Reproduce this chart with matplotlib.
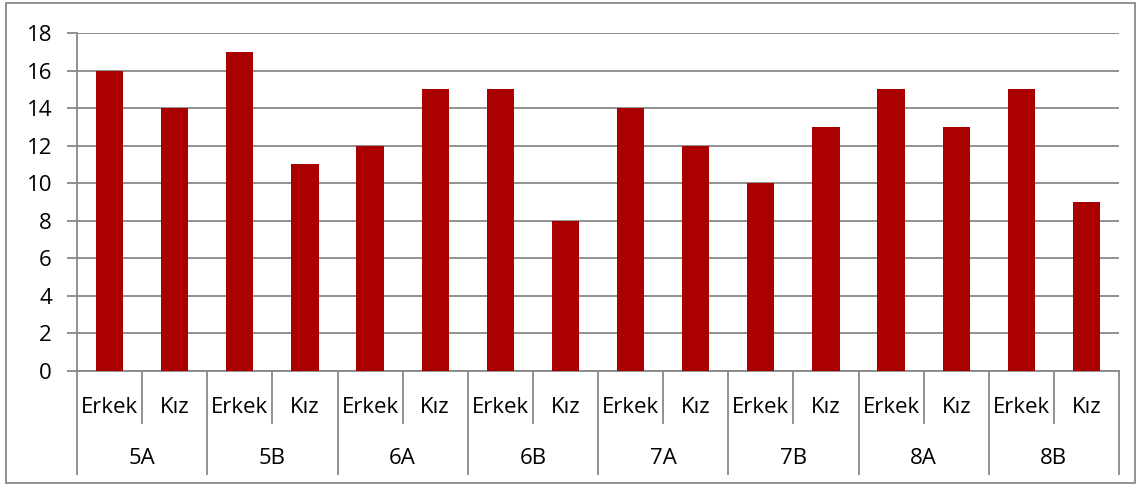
import matplotlib
matplotlib.use("Agg")
import matplotlib.pyplot as plt
from matplotlib.patches import Rectangle
import matplotlib.transforms as mtransforms

groups = ["5A", "5B", "6A", "6B", "7A", "7B", "8A", "8B"]
subcats = ["Erkek", "Kız"]
erkek = [16, 17, 12, 15, 14, 10, 15, 15]
kiz = [14, 11, 15, 8, 12, 13, 13, 9]
yticks = [0, 2, 4, 6, 8, 10, 12, 14, 16, 18]

values = []
labels = []
for e, k in zip(erkek, kiz):
    values += [e, k]
    labels += subcats

plt.rcParams['font.family'] = ['Open Sans', 'DejaVu Sans']
FS = 16
W, H = 1138, 486
fig = plt.figure(figsize=(W / 100, H / 100), dpi=100)
ax = fig.add_axes([77 / W, 1 - 371 / H, (1119 - 77) / W, (371 - 33) / H])

grid_c = "#888888"
x = list(range(len(values)))
ax.bar(x, values, width=0.42, color="#AA0000", zorder=3)
ax.set_xlim(-0.5, len(values) - 0.5)
ax.set_ylim(0, 18)
ax.set_yticks(yticks)
ax.set_yticklabels([str(t) for t in yticks], fontsize=FS)
ax.yaxis.grid(True, color=grid_c, linewidth=1.3, zorder=0)
ax.tick_params(axis='y', length=7, width=1.3, color=grid_c, pad=11)
ax.set_xticks([])
for s in ["top", "right"]:
    ax.spines[s].set_visible(False)
for s in ["left", "bottom"]:
    ax.spines[s].set_color(grid_c)
    ax.spines[s].set_linewidth(1.3)

trans = mtransforms.blended_transform_factory(ax.transData, ax.transAxes)
ah = 371 - 33
y_sub = -(423 - 371) / ah
y_grp = -(474 - 371) / ah
for i in range(len(values) + 1):
    yb = y_grp if i % 2 == 0 else y_sub
    ax.plot([i - 0.5, i - 0.5], [0, yb], transform=trans, color=grid_c,
            linewidth=1.3, clip_on=False)
for i, lab in enumerate(labels):
    ax.text(i, -(407 - 371) / ah, lab, transform=trans, ha='center', va='center',
            fontsize=FS)
for g, name in enumerate(groups):
    ax.text(2 * g + 0.5, -(458 - 371) / ah, name, transform=trans, ha='center',
            va='center', fontsize=FS)

fig.patches.append(Rectangle((6 / W, 1 - 483 / H), (1135 - 6) / W, (483 - 3) / H,
                             transform=fig.transFigure, fill=False,
                             edgecolor=grid_c, linewidth=1.3))
fig.savefig("out.png", dpi=100)
